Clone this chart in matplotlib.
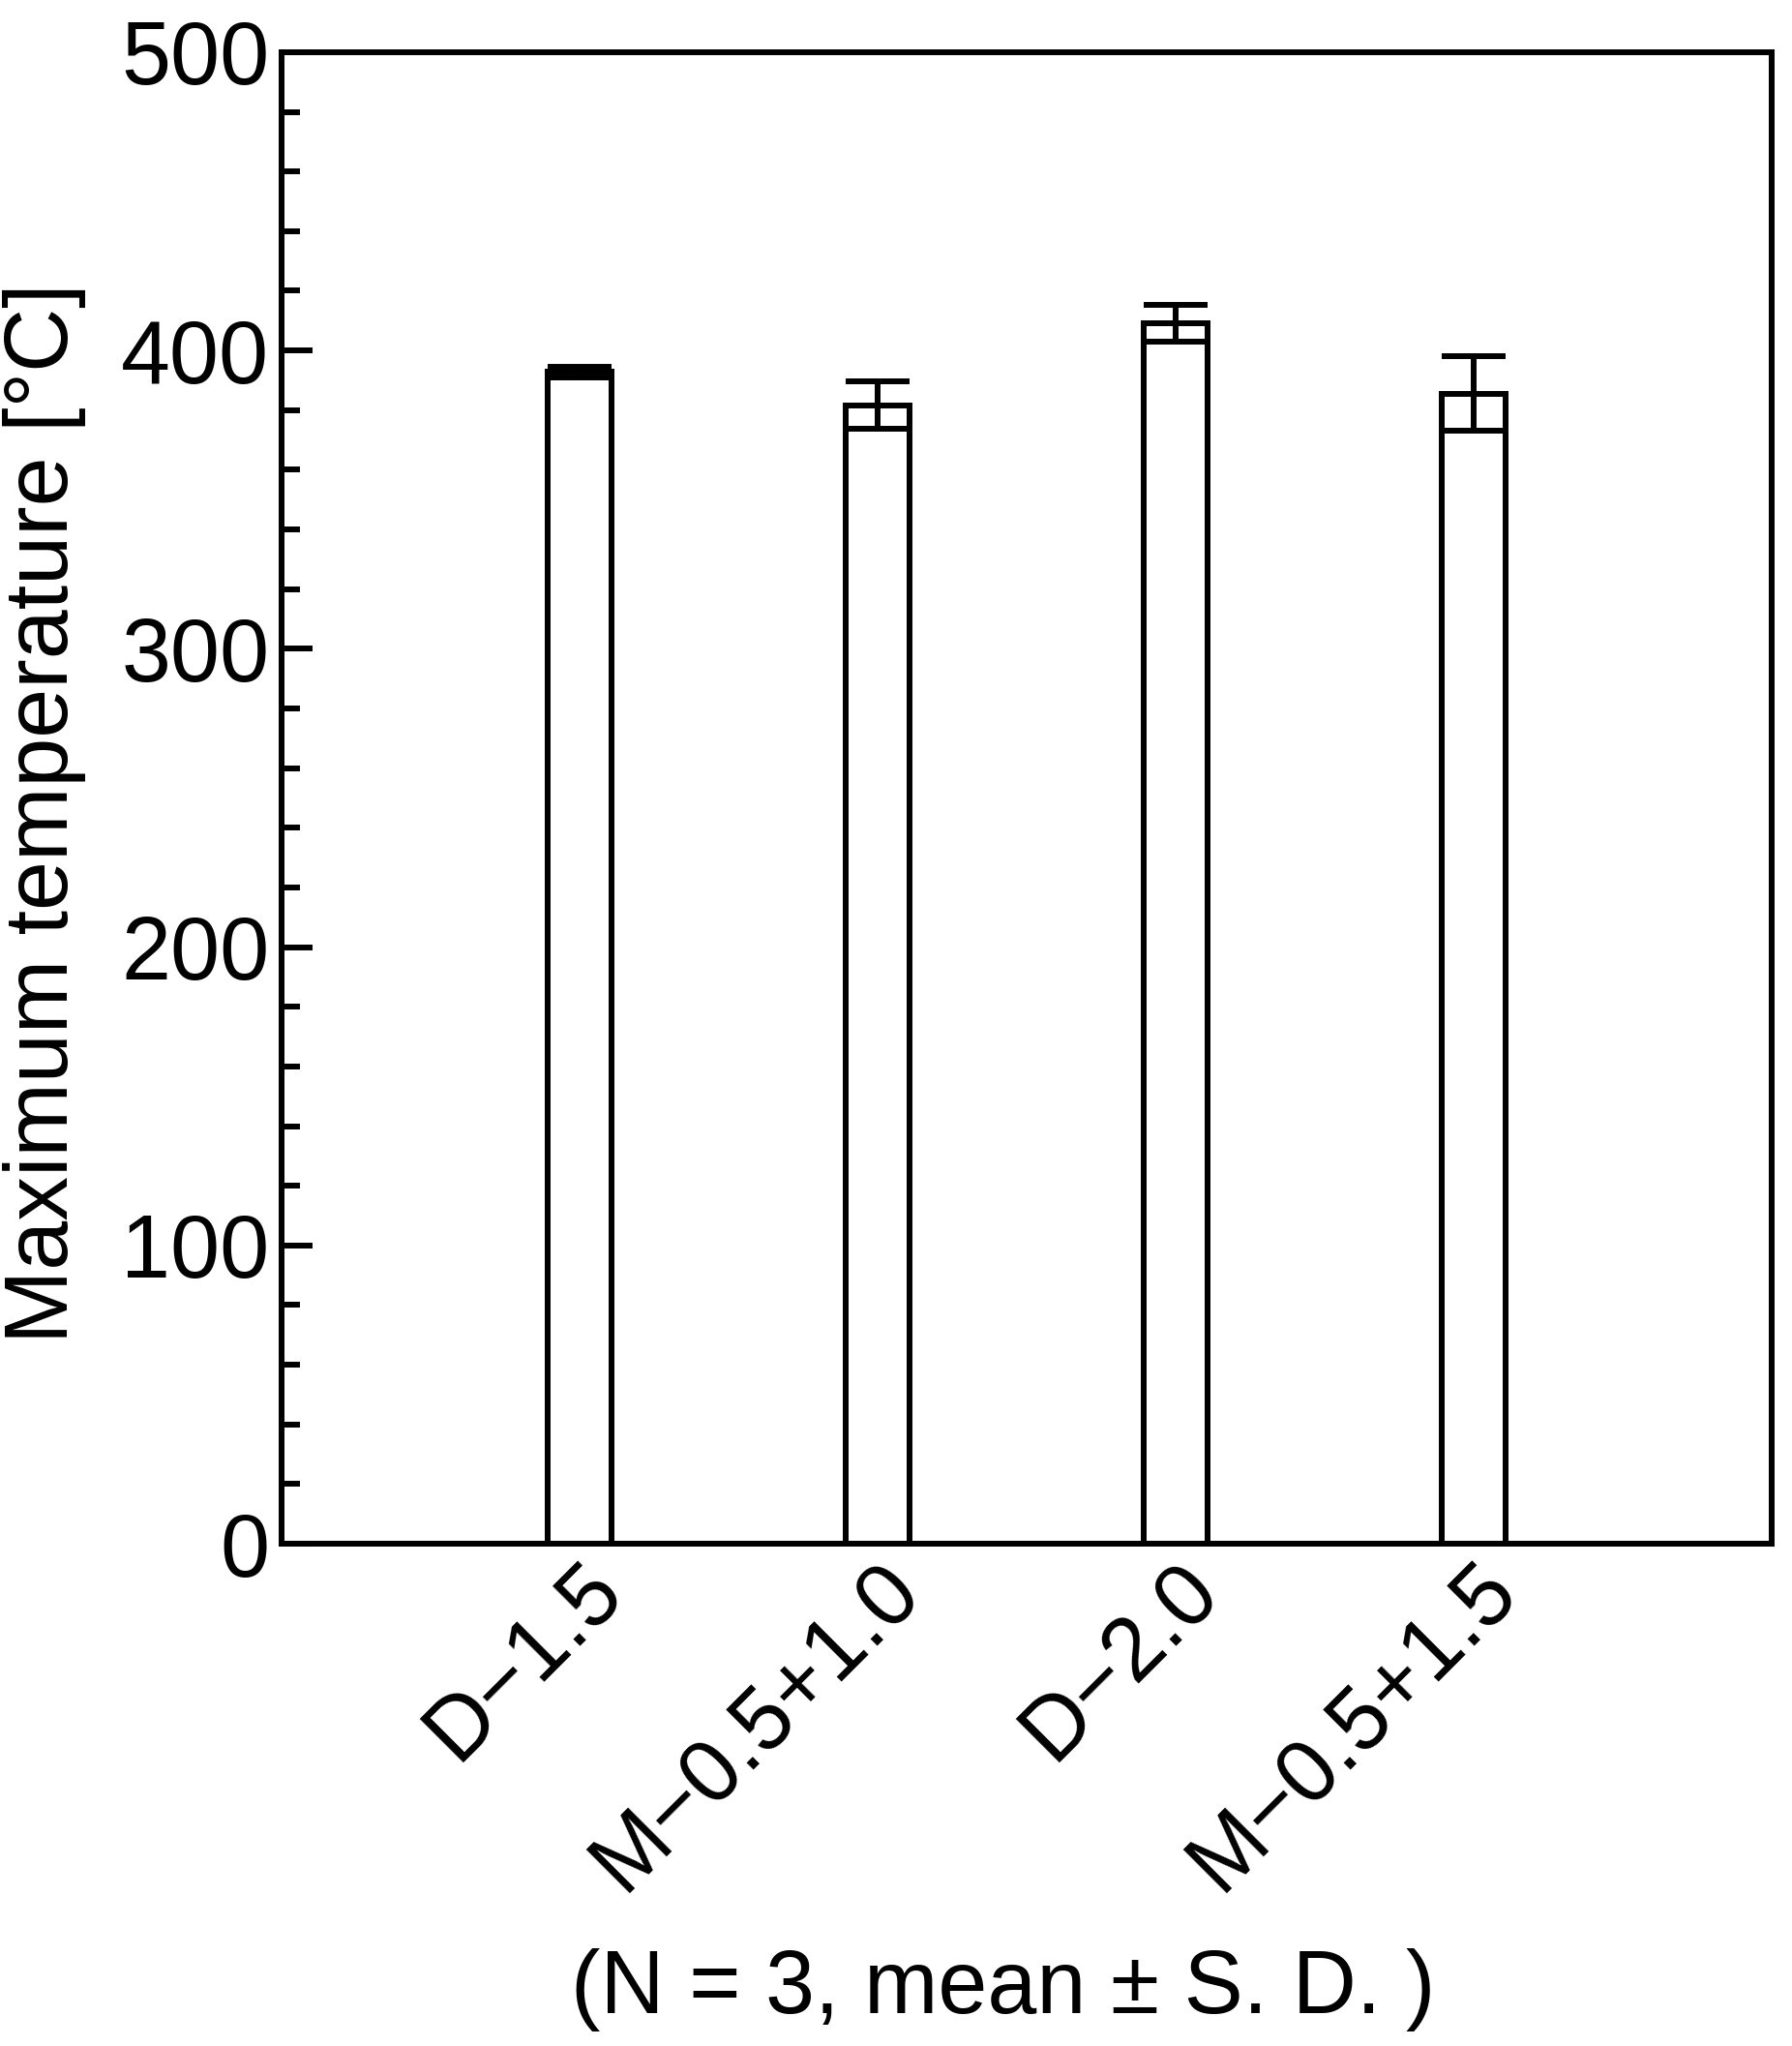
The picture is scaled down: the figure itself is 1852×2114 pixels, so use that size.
import matplotlib
matplotlib.use("Agg")
import matplotlib.pyplot as plt
from matplotlib.ticker import MultipleLocator

# data
groups = ["D\u22121.5", "M\u22120.5+1.0", "D\u22122.0", "M\u22120.5+1.5"]
mean_temp = [392.8, 381.6, 409.2, 385.6]
sd_temp = [1.8, 7.9, 6.2, 12.5]

plt.rcParams["font.family"] = ["Liberation Sans", "DejaVu Sans"]
plt.rcParams["font.size"] = 66

fig = plt.figure(figsize=(18.52, 21.14), dpi=100)
ax = fig.add_axes([0.157, 0.2455, 0.8317, 0.729])

lw = 4.3
xs = list(range(1, len(groups) + 1))
ax.bar(xs, mean_temp, width=0.215, color="white", edgecolor="black", linewidth=lw, zorder=2)
ax.errorbar(xs, mean_temp, yerr=sd_temp, fmt="none", ecolor="black",
            elinewidth=lw, capsize=24, capthick=lw, zorder=3)

ax.set_xlim(0, 5)
ax.set_ylim(0, 500)
ax.yaxis.set_major_locator(MultipleLocator(100))
ax.yaxis.set_minor_locator(MultipleLocator(20))
ax.tick_params(axis="y", which="major", direction="in", length=23, width=lw, pad=9)
ax.tick_params(axis="y", which="minor", direction="in", length=14, width=lw)
ax.tick_params(axis="x", length=0, pad=3)
ax.set_xticks(xs)
ax.set_xticklabels(groups, rotation=45, ha="right", rotation_mode="anchor")

for s in ax.spines.values():
    s.set_linewidth(lw)

ax.set_ylabel("Maximum temperature [\u00b0C]")
ax.yaxis.set_label_coords(-0.131, 0.49)

fig.text(0.56, 1 - 2056 / 2114, "(N = 3, mean \u00b1 S. D. )", ha="center", va="center")

fig.savefig("out.png", dpi=100)
